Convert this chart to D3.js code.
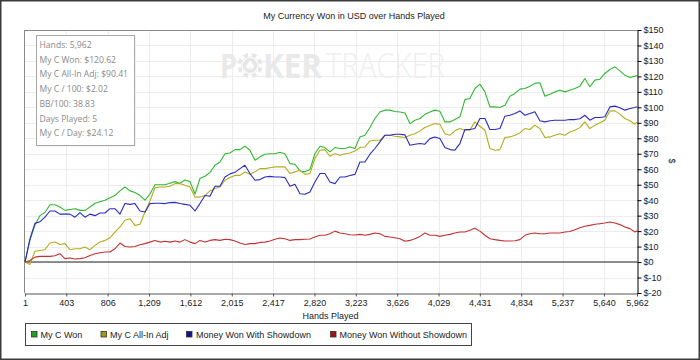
<!DOCTYPE html>
<html><head><meta charset="utf-8">
<script src="https://cdn.jsdelivr.net/npm/d3@7"></script>
<style>html,body{margin:0;padding:0;background:#fff;}svg{display:block;}</style>
</head><body>
<script>
// ---------- data ----------
const hands = [1,49,98,146,195,244,293,341,390,439,488,536,585,634,683,731,780,829,877,926,975,1024,1072,1121,1170,1218,1267,1316,1364,1413,1462,1510,1559,1608,1657,1705,1754,1803,1851,1900,1949,1997,2046,
2095,2143,2192,2241,2289,2338,2387,2436,2484,2533,2582,2630,2679,2728,2776,2825,2874,2922,2971,3020,3069,3117,3166,3215,3263,3312,3361,3409,3458,3507,3555,3604,3653,3702,3750,3799,3848,3896,3945,3994,
4042,4091,4140,4188,4237,4286,4334,4383,4432,4481,4529,4578,4627,4675,4724,4773,4821,4870,4919,4967,5016,5065,5114,5162,5211,5260,5308,5357,5406,5454,5503,5552,5601,5649,5698,5747,5795,5844,5893,5942,5962];

const myCWon = [0,14,24,30,32,37,37,35.6,33.4,34,34.5,33.4,33.4,35.6,38,39,40,41.6,43,46,48.5,46,45,43,40,44,50,50,50,51,52,51,53,52,44,54,55.5,58,62.6,64.7,70,70.5,72.7,
72.7,74.9,72.3,65.8,68,69.7,70,70,71,70,63.6,63.2,58.9,58.3,59.8,70,74.9,74,71.2,74,73.4,73.4,74.4,73.4,80.9,82,87,92.8,97,98.2,98.2,97.3,97,96.4,89.5,91.7,92.8,95.5,97,98.2,
97.5,90.6,90.6,92.1,93.9,105,105.7,112.2,115,110,100.3,100.3,99.9,101.4,107.2,109,111.8,112.2,113.7,115.5,115.9,107.2,108.5,110,111.1,110,111.1,112.2,113.7,118.7,113.3,117.6,118.2,121.9,124.5,126.2,123.6,120.8,119.3,120.2,120.62];

const myCAllInAdj = [0,-1.5,7,7.5,8,12.3,13,11.4,11.9,8,8.6,8.6,9.7,8,10.8,13,14,15.7,19.4,22.7,27,28,23.7,24.4,32.4,39.5,48,48.5,48.5,49,50.7,50.7,49.6,48.5,42,42,43,46,47.5,48.5,52.9,54.6,56,
56,58.3,56.7,58.3,60.4,60.4,61,61.5,61.5,61.5,57.2,58.3,59.3,56.7,57.2,66.9,72.3,72.7,68.4,70,69,70,70.5,71.8,74,74.4,78.3,78.7,78.7,82,82,81.3,80.9,80.5,82,83,84.8,87,88.2,89.5,
89.1,83,82,84.8,86.3,85.2,85.2,90.6,87.8,85.2,73.4,72.3,72.7,80.5,80.9,82,83.5,86.3,85.7,88.5,86.3,80.5,80.9,82,83,82,84.1,85.2,86.9,90.6,86.3,88.5,90,91.7,97.7,97.7,95.6,92.8,91.3,89.1,90.41];

const wonWithShowdown = [0,15,25,26,29,33,33,31,31,31,29,32,29,31,30,31.7,31.7,34.5,34.5,31,37.8,37.3,37.8,33,32.4,37.8,38,38,37.8,38.4,38.6,37.8,37.3,36.7,33,37.8,43,42.5,49,49,55,57,58,
60.4,62.6,57.2,52.9,53.3,55,55.4,55,55,54.6,49,50.3,44.2,43.8,45.3,51.8,57.2,57.2,51.8,50.7,55,55,56,56.7,64.7,64.7,69.7,73.4,77.7,82,82,82.6,82.6,82.2,75.5,76.2,76.6,76.2,79.8,80.9,
79.8,74,72.7,72.3,76.6,85.7,85.7,86.3,92.8,92.8,85.7,85.7,86.3,94.3,94.9,96,97.7,94.9,96,97.1,91.3,90.6,91.3,91.7,91.7,91.7,92.1,92.1,92.6,94.9,91.7,93.4,93.4,93.9,100.3,100.8,99.7,98.2,99.3,99.9,100.41];

const wonWithoutShowdown = [0,1,3.2,3.7,3.7,3.7,4.1,5.4,2.2,2.6,2,2.2,2.8,4.3,5.4,6,6.5,6.5,8.6,12.3,10.1,9.7,10.1,11.2,11.9,12.9,14,12.9,13.4,12.9,13.6,12.9,14.5,12.9,11.9,14,12.9,14,14.5,14,14.7,14.5,13.6,
12.3,11.4,11.9,11.9,12.7,12.9,13.6,14.7,15.5,15.1,14,14.5,14.5,14.7,14.9,16.2,17.3,17.3,18.3,20,18.8,18.3,17.7,17.5,17.9,17.3,17.9,18.8,18.3,16.6,16.2,15.7,15.1,13.4,14,15.1,16.6,18.8,17.3,17.3,
16.6,17.3,17.9,18.8,19.4,19.4,20.5,21.8,20,17.3,15.1,14.5,14,13.6,13.6,13.8,14.5,17.3,18.3,18.8,18.3,18.3,18.8,18.8,18.8,19.4,19.8,20.9,22.2,23.1,23.7,24.4,24.8,25.2,25.9,25.2,24.2,22.7,21.6,19.4,20.21];

const seriesNames = ["My C Won", "My C All-In Adj", "Money Won With Showdown", "Money Won Without Showdown"];
const xTickValues = [1,403,806,1209,1612,2015,2417,2820,3223,3626,4029,4431,4834,5237,5640,5962];
const yTickValues = [-20,-10,0,10,20,30,40,50,60,70,80,90,100,110,120,130,140,150];
const statLines = ["Hands: 5,962","My C Won: $120.62","My C All-In Adj: $90.41","My C / 100: $2.02","BB/100: 38.83","Days Played: 5","My C / Day: $24.12"];
const titleText = "My Currency Won in USD over Hands Played";

// ---------- drawing ----------
const W = 700, H = 360;
const lineColors = ["#30b830", "#b4ac1e", "#2a2ac4", "#c43030"];
const swatchColors = ["#1f9f1f", "#a09a10", "#101090", "#a81010"];
const FONT = "'Liberation Sans', Arial, sans-serif";

const svg = d3.select("body").append("svg").attr("width", W).attr("height", H);
svg.append("rect").attr("x",0).attr("y",0).attr("width",W).attr("height",H).attr("fill","#fff");

const x = d3.scaleLinear().domain([1, 5962]).range([25, 637]);
const y = d3.scaleLinear().domain([-20, 150]).range([293, 30]);

// gridlines
const grid = svg.append("g");
grid.selectAll("line.h").data(yTickValues.filter(v => v > -20 && v < 150)).join("line")
  .attr("x1", x(1)).attr("x2", x(5962)).attr("y1", d => Math.round(y(d)) + 0.5).attr("y2", d => Math.round(y(d)) + 0.5)
  .attr("stroke", "#ececec").attr("stroke-width", 1);
grid.selectAll("line.v").data(xTickValues.slice(1, -1)).join("line")
  .attr("y1", y(150)).attr("y2", y(-20)).attr("x1", d => Math.round(x(d)) + 0.5).attr("x2", d => Math.round(x(d)) + 0.5)
  .attr("stroke", "#ececec").attr("stroke-width", 1);

// watermark
const wm = svg.append("g").attr("fill", "#e9e9e9");
wm.append("text").attr("x", 220).attr("y", 78).attr("font-family", "'Open Sans', sans-serif").attr("font-weight", 700)
  .attr("font-size", 34).attr("textLength", 17).attr("lengthAdjust", "spacingAndGlyphs").text("P");
const chip = wm.append("g").attr("transform", "translate(250,65.5)");
chip.append("circle").attr("r", 12.5).attr("fill", "#e6e6e6");
d3.range(8).forEach(i => {
  chip.append("rect").attr("x", -2).attr("y", -12.5).attr("width", 4).attr("height", 3.5).attr("fill", "#fff")
    .attr("transform", `rotate(${i * 45})`);
});
chip.append("circle").attr("r", 8).attr("fill", "#e6e6e6").attr("stroke", "#fff").attr("stroke-width", 1.2);
chip.append("text").attr("x", 0).attr("y", 4.5).attr("text-anchor", "middle").attr("font-size", 13)
  .attr("font-family", "'DejaVu Sans', sans-serif").attr("fill", "#fff").text("\u2660");
wm.append("text").attr("x", 263).attr("y", 78).attr("font-family", "'Open Sans', sans-serif").attr("font-weight", 700)
  .attr("font-size", 34).attr("textLength", 59).attr("lengthAdjust", "spacingAndGlyphs").text("KER");
wm.append("text").attr("x", 326).attr("y", 78).attr("font-family", "'Open Sans', sans-serif").attr("font-weight", 300)
  .attr("font-size", 34).attr("fill", "#efefef").attr("textLength", 119).attr("lengthAdjust", "spacingAndGlyphs").text("TRACKER");

// plot frame
svg.append("line").attr("x1", 24.5).attr("x2", 24.5).attr("y1", 30).attr("y2", 293).attr("stroke", "#8a8a8a");
svg.append("line").attr("x1", 24).attr("x2", 637).attr("y1", 30.5).attr("y2", 30.5).attr("stroke", "#8a8a8a");

// zero line
svg.append("line").attr("x1", 25).attr("x2", 637).attr("y1", y(0)).attr("y2", y(0)).attr("stroke", "#6a6a6a").attr("stroke-width", 1.5);

// series lines
const allSeries = [myCWon, myCAllInAdj, wonWithShowdown, wonWithoutShowdown];
const lineGen = d3.line().x((d, i) => x(hands[i])).y(d => y(d));
allSeries.forEach((vals, k) => {
  svg.append("path").datum(vals).attr("d", lineGen).attr("fill", "none")
    .attr("stroke", lineColors[k]).attr("stroke-width", 1.1).attr("stroke-linejoin", "round");
});

// x axis
const xAxis = d3.axisBottom(x).tickValues(xTickValues).tickFormat(d3.format(",")).tickSize(3).tickSizeOuter(0);
const gx = svg.append("g").attr("transform", "translate(0,293.5)").call(xAxis);
gx.select(".domain").attr("stroke", "#555");
gx.selectAll(".tick line").attr("stroke", "#555");
gx.selectAll(".tick text").attr("font-family", FONT).attr("font-size", 9).attr("fill", "#222").attr("dy", "0.85em").attr("y", 5);

// y axis (right)
const yAxis = d3.axisRight(y).tickValues(yTickValues).tickFormat(d => "$" + d).tickSize(4).tickSizeOuter(0);
const gy = svg.append("g").attr("transform", "translate(637.5,0)").call(yAxis);
gy.select(".domain").attr("stroke", "#000");
gy.selectAll(".tick line").attr("stroke", "#000");
gy.selectAll(".tick text").attr("font-family", FONT).attr("font-size", 9).attr("fill", "#222").attr("x", 6);

// axis titles
svg.append("text").attr("x", 330.5).attr("y", 319).attr("text-anchor", "middle").attr("font-family", FONT)
  .attr("font-size", 9).attr("fill", "#222").text("Hands Played");
svg.append("text").attr("transform", "translate(669,161) rotate(90)").attr("text-anchor", "middle")
  .attr("font-family", FONT).attr("font-size", 9).attr("fill", "#222").text("$");

// title
svg.append("text").attr("x", 354).attr("y", 19).attr("text-anchor", "middle").attr("font-family", FONT)
  .attr("font-size", 9).attr("fill", "#222").text(titleText);

// stats box
svg.append("rect").attr("x", 37.5).attr("y", 36.5).attr("width", 98).attr("height", 110).attr("fill", "#e8e8e8");
svg.append("rect").attr("x", 36.5).attr("y", 35.5).attr("width", 98).attr("height", 110).attr("fill", "#fff").attr("stroke", "#a8a8a8");
svg.selectAll("text.stat").data(statLines).join("text").attr("class", "stat")
  .attr("x", 39.5).attr("y", (d, i) => 48 + i * 14.7).attr("font-family", "'Open Sans', sans-serif")
  .attr("font-size", 8.6).attr("fill", "#8a8a8a").text(d => d);

// legend
svg.append("rect").attr("x", 25.5).attr("y", 323.5).attr("width", 446).attr("height", 22).attr("fill", "#fff").attr("stroke", "#444");
const legendSwatchX = [31, 100.5, 186, 330];
const legendTextX = [40.5, 110, 196, 339.5];
seriesNames.forEach((name, k) => {
  svg.append("rect").attr("x", legendSwatchX[k] + 0.5).attr("y", 331.5).attr("width", 5.5).attr("height", 5.5)
    .attr("fill", swatchColors[k]).attr("stroke", "#333").attr("stroke-width", 0.8);
  svg.append("text").attr("x", legendTextX[k]).attr("y", 337.5).attr("font-family", FONT).attr("font-size", 9)
    .attr("fill", "#222").text(name);
});

// outer border
svg.append("rect").attr("x", 0.75).attr("y", 0.75).attr("width", W - 1.5).attr("height", H - 1.5)
  .attr("fill", "none").attr("stroke", "#3c3c3c").attr("stroke-width", 1.5);
</script>
</body></html>
